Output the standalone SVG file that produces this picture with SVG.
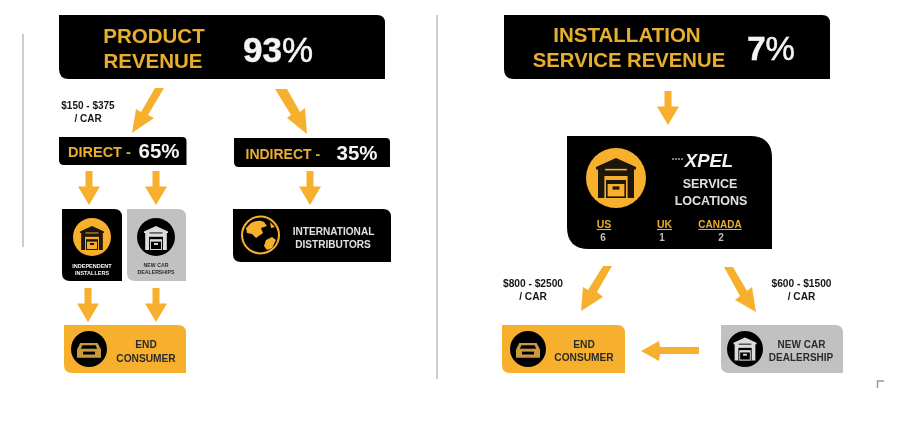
<svg xmlns="http://www.w3.org/2000/svg" width="900" height="431" viewBox="0 0 900 431">
<style>
text{font-family:"Liberation Sans",Arial,sans-serif;font-weight:700;text-anchor:middle}
.k{fill:#050505}.y{fill:#f6b02e}.g{fill:#c1c1c1}
.ty{fill:#e9ae2f}.tw{fill:#f4f4f4}.td{fill:#2b2b2b}.tb{fill:#161616}.tl{fill:#e0e0e0}.tn{fill:#bdbdbd}
.ar{fill:#f6b02e}
.ln{stroke:#bdbdbd;stroke-width:1.5;fill:none}
</style>
<defs>
<filter id="soft" x="-2%" y="-2%" width="104%" height="104%"><feGaussianBlur stdDeviation="0.6"/></filter>
<g id="garage">
<path d="M-1 -.55L0 -1 1 -.55V-.42H.9V1H-.9V-.42H-1Z" fill="currentColor"/>
<rect x="-.58" y="-.1" width="1.16" height="1.1" fill="var(--bg)"/>
<rect x="-.5" y=".1" width="1" height=".9" fill="currentColor"/>
<rect x="-.42" y=".3" width=".84" height=".62" fill="var(--bg)"/>
<rect x="-.17" y=".42" width=".34" height=".16" fill="currentColor"/>
<path d="M-.55 -.42H.55" stroke="var(--bg)" stroke-width=".08"/>
</g>
<g id="car">
<path d="M-1 .05L-.72 -.5H.72L1 .05V.72H-1Z" fill="currentColor"/>
<path d="M-.55 -.32H.55L.68 -.02H-.68Z" fill="#050505"/>
<rect x="-.5" y=".22" width="1" height=".24" fill="#050505"/>
</g>
<path id="d" d="M-3.500 0H3.500V15.500H11L0 34-11 15.500H-3.500Z"/>
</defs>
<g filter="url(#soft)">
<g id="connectors">
<path class="ln" d="M23 34V247"/>
<path class="ln" d="M437 15V379"/>
<path d="M877.500 388V381H884" fill="none" stroke="#9a9a9a" stroke-width="1.500"/>
<path class="ar" d="M155 88H164L148 115 154 118 132 133 136 109 141 112Z"/>
<path class="ar" d="M275 89H287L300 112 305 108 307 134 287 118 291 115Z"/>
<use href="#d" class="ar" x="89" y="171"/>
<use href="#d" class="ar" x="156" y="171"/>
<use href="#d" class="ar" x="310" y="171"/>
<use href="#d" class="ar" x="88" y="288"/>
<use href="#d" class="ar" x="156" y="288"/>
<use href="#d" class="ar" x="668" y="91"/>
<path class="ar" d="M603 266H612L597 292 603 297 581 311 583 287 588 290Z"/>
<path class="ar" d="M724 267H733L747 291 752 287 756 312 735 300 740 296Z"/>
<path class="ar" d="M699 347V354H660L659 361 641 351 659 341 660 347Z"/>
</g>
<g id="product-revenue">
<path class="k" d="M59 15H377Q385 15 385 23V79H69Q59 79 59 69Z"/>
<text class="ty" x="154" y="43" font-size="20.500">PRODUCT</text>
<text class="ty" x="153" y="68" font-size="20.500">REVENUE</text>
<text class="tw" x="278" y="62" font-size="35" style="font-weight:400" stroke="#f4f4f4" stroke-width=".5"><tspan style="font-weight:700">93</tspan>%</text>
</g>
<g id="direct">
<path class="k" d="M59 137H182Q186.500 137 186.500 141V165H64Q59 165 59 160Z"/>
<text class="ty" x="68" y="157" font-size="14.500" style="text-anchor:start">DIRECT -</text>
<text class="tw" x="159" y="158" font-size="20.500">65%</text>
</g>
<g id="indirect">
<path class="k" d="M234 138H386Q390 138 390 142V167H239Q234 167 234 162Z"/>
<text class="ty" x="245.500" y="159" font-size="14" style="text-anchor:start" xml:space="preserve">INDIRECT -</text>
<text class="tw" x="357" y="160" font-size="20.500">35%</text>
</g>
<text class="tb" x="88" y="109" font-size="10">$150 - $375</text>
<text class="tb" x="88" y="122" font-size="10">/ CAR</text>
<g id="independent-installers">
<path class="k" d="M62 209H114Q122 209 122 217V281H70Q62 281 62 273Z"/>
<circle class="y" cx="92" cy="237" r="19"/>
<use href="#garage" transform="translate(92 238) scale(12)" style="color:#1a1408;--bg:#f6b02e"/>
<text class="tw" x="92" y="268" font-size="5.500">INDEPENDENT</text>
<text class="tw" x="92" y="275" font-size="5.500">INSTALLERS</text>
</g>
<g id="new-car-dealerships">
<path class="g" d="M127 209H178Q186 209 186 217V281H135Q127 281 127 273Z"/>
<circle class="k" cx="156" cy="237" r="19"/>
<use href="#garage" transform="translate(156 238) scale(12)" style="color:#dcdcdc;--bg:#050505"/>
<text class="td" x="156" y="267" font-size="5.200">NEW CAR</text>
<text class="td" x="156" y="274" font-size="5.200">DEALERSHIPS</text>
</g>
<g id="end-consumer-left">
<path class="y" d="M64 325H178Q186 325 186 333V373H72Q64 373 64 365Z"/>
<circle class="k" cx="89" cy="349" r="18"/>
<use href="#car" transform="translate(89 349) scale(12)" style="color:#c99a3a"/>
<text class="td" x="146" y="348" font-size="10.200">END</text>
<text class="td" x="146" y="362" font-size="10.200">CONSUMER</text>
</g>
<g id="international-distributors">
<path class="k" d="M233 209H383Q391 209 391 217V262H241Q233 262 233 254Z"/>
<circle cx="260.500" cy="235" r="18.500" fill="none" stroke="#f6b02e" stroke-width="2"/>
<path class="y" d="M251 223Q258 219 264 222L267 226 261 228 263 233 256 238 252 234 247 233 246 228ZM266 240L272 237 276 240 272 248 267 250 264 246ZM270 222L275 227 271 228Z"/>
<text class="tl" x="333.500" y="235" font-size="10.100">INTERNATIONAL</text>
<text class="tl" x="333" y="248" font-size="10.100">DISTRIBUTORS</text>
</g>
<g id="installation-service-revenue">
<path class="k" d="M504 15H822Q830 15 830 23V79H514Q504 79 504 69Z"/>
<text class="ty" x="627" y="42" font-size="20.500">INSTALLATION</text>
<text class="ty" x="629" y="67" font-size="20.300">SERVICE REVENUE</text>
<text class="tw" x="771" y="60" font-size="33" style="font-weight:400" stroke="#f4f4f4" stroke-width=".5"><tspan style="font-weight:700">7</tspan>%</text>
</g>
<g id="xpel-service-locations">
<path class="k" d="M567 136H750Q772 136 772 158V249H589Q567 249 567 227Z"/>
<circle class="y" cx="616" cy="178" r="30"/>
<use href="#garage" transform="translate(616 178) scale(20)" style="color:#1a1408;--bg:#f6b02e"/>
<path d="M672 159H684" stroke="#eee" stroke-width="1" stroke-dasharray="2 1"/>
<text class="tw" x="709" y="167" font-size="18.500" style="font-style:italic">XPEL</text>
<text class="tl" x="710" y="188" font-size="12.500">SERVICE</text>
<text class="tl" x="711" y="205" font-size="12.500">LOCATIONS</text>
<text class="ty" x="604" y="228" font-size="10.500" text-decoration="underline">US</text>
<text class="tn" x="603" y="241" font-size="10">6</text>
<text class="ty" x="664.500" y="228" font-size="10.500" text-decoration="underline">UK</text>
<text class="tn" x="662" y="241" font-size="10">1</text>
<text class="ty" x="720" y="228" font-size="10" text-decoration="underline">CANADA</text>
<text class="tn" x="721" y="241" font-size="10">2</text>
</g>
<text class="tb" x="533" y="287" font-size="10.200">$800 - $2500</text>
<text class="tb" x="533" y="300" font-size="10.200">/ CAR</text>
<text class="tb" x="801.500" y="287" font-size="10.200">$600 - $1500</text>
<text class="tb" x="801.500" y="300" font-size="10.200">/ CAR</text>
<g id="end-consumer-right">
<path class="y" d="M502 325H617Q625 325 625 333V373H510Q502 373 502 365Z"/>
<circle class="k" cx="528" cy="349" r="18"/>
<use href="#car" transform="translate(528 349) scale(12)" style="color:#c99a3a"/>
<text class="td" x="584" y="348" font-size="10.200">END</text>
<text class="td" x="584" y="361" font-size="10.200">CONSUMER</text>
</g>
<g id="new-car-dealership">
<path class="g" d="M721 325H835Q843 325 843 333V373H729Q721 373 721 365Z"/>
<circle class="k" cx="745" cy="349" r="18"/>
<use href="#garage" transform="translate(745 349) scale(11.500)" style="color:#dcdcdc;--bg:#050505"/>
<text class="td" x="801.500" y="348" font-size="10">NEW CAR</text>
<text class="td" x="801" y="361" font-size="10">DEALERSHIP</text>
</g>
</g>
</svg>
